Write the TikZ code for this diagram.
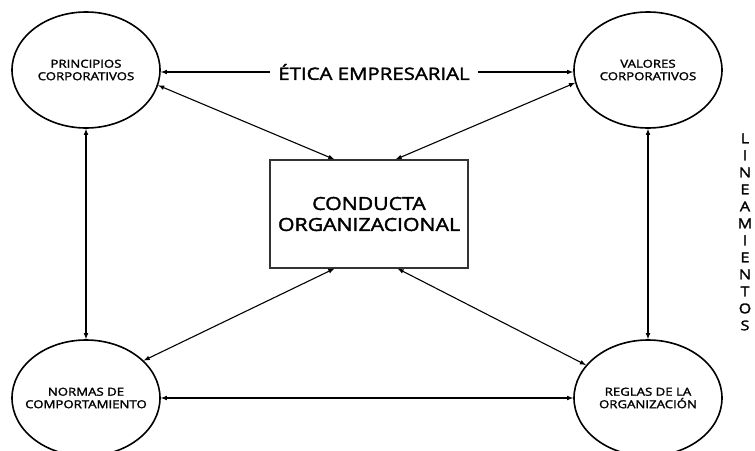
\documentclass[tikz,border=0pt]{standalone}
\usepackage{fontspec}
\setmainfont{Open Sans}
\newfontfamily\widefont{Open Sans}[FakeStretch=1.2, FakeBold=2]
\newfontfamily\boxfont{Open Sans}[FakeStretch=1.18, FakeBold=2]
\usetikzlibrary{positioning,shapes.geometric}

\begin{document}
\begin{tikzpicture}[x=1pt,y=-1pt,inner sep=0pt]
\tikzstyle{main}=[ellipse, minimum width=148pt, minimum height=116pt, inner xsep=-20pt, line width=1.6pt, draw=black, align=center, font=\widefont\fontsize{11}{12.5}\selectfont]
\tikzstyle{box}=[rectangle, minimum width=198pt, minimum height=108pt, line width=1.2pt, draw=black!80, align=center, font=\boxfont\fontsize{18}{21}\selectfont]
\tikzstyle{connect}=[-latex, line width=1.1pt]
\tikzstyle{both}=[latex-latex, line width=1.1pt]
\useasboundingbox (0,0) rectangle (755,450);
\node[main] (pc) at (86,70) {PRINCIPIOS\\CORPORATIVOS};
\node[main] (vc) at (648,70) {VALORES\\CORPORATIVOS};
\node[main] (nc) at (86,398) {NORMAS DE\\COMPORTAMIENTO};
\node[main] (ro) at (648,398) {REGLAS DE LA\\ORGANIZACIÓN};
\node[box] (co) at (369,214) {CONDUCTA\\ORGANIZACIONAL};
\node[font=\widefont\fontsize{17}{20}\selectfont] (etica) at (374,72) {ÉTICA EMPRESARIAL};
\node[align=center, font=\widefont\fontsize{13.5}{17}\selectfont] (lin) at (745,232) {L\\I\\N\\E\\A\\M\\I\\E\\N\\T\\O\\S};
\draw[connect] ([xshift=-8pt]etica.west) -- (etica.west -| pc.east);
\draw[connect] ([xshift=8pt]etica.east) -- (etica.east -| vc.west);
\draw[both] (pc.-12) -- ([xshift=65pt]co.north west);
\draw[both] (vc.-170) -- ([xshift=-73pt]co.north east);
\draw[both] (nc.33) -- ([xshift=65pt]co.south west);
\draw[both] (ro.152) -- ([xshift=-71pt]co.south east);
\draw[both] (pc.south) -- (nc.north);
\draw[both] (vc.south) -- (ro.north);
\draw[both] (nc.east) -- (ro.west);
\end{tikzpicture}
\end{document}
